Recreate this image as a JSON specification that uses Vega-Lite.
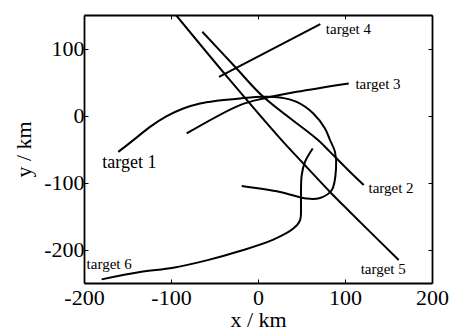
{
  "$schema": "https://vega.github.io/schema/vega-lite/v6.json",
  "width": 348,
  "height": 268,
  "autosize": {"type": "none"},
  "padding": {"left": 84, "top": 15, "right": 19, "bottom": 48},
  "background": "white",
  "config": {
    "view": {"stroke": null},
    "font": "Liberation Serif",
    "axis": {"grid": false, "labelFlush": false, "labelOverlap": false, "domainColor": "#000", "domainWidth": 1.8, "tickColor": "#000", "tickWidth": 1, "labelColor": "#000", "titleColor": "#000", "labelFont": "Liberation Serif", "titleFont": "Liberation Serif", "labelFontSize": 22, "titleFontSize": 22, "titleFontWeight": "normal"}
  },
  "datasets": {
    "tracks": [
      {"t": "target 1", "i": 1, "x": -160.6, "y": -54.3},
      {"t": "target 1", "i": 2, "x": -143.3, "y": -36.8},
      {"t": "target 1", "i": 3, "x": -124.1, "y": -17},
      {"t": "target 1", "i": 4, "x": -104.9, "y": -1},
      {"t": "target 1", "i": 5, "x": -85.9, "y": 10.5},
      {"t": "target 1", "i": 6, "x": -66.7, "y": 18},
      {"t": "target 1", "i": 7, "x": -47.5, "y": 22},
      {"t": "target 1", "i": 8, "x": -20.7, "y": 25.5},
      {"t": "target 1", "i": 9, "x": 6.1, "y": 27.9},
      {"t": "target 1", "i": 10, "x": 25.3, "y": 27},
      {"t": "target 1", "i": 11, "x": 44.5, "y": 20.4},
      {"t": "target 1", "i": 12, "x": 63.6, "y": 3.1},
      {"t": "target 1", "i": 13, "x": 77, "y": -19.4},
      {"t": "target 1", "i": 14, "x": 82.8, "y": -36.8},
      {"t": "target 1", "i": 15, "x": 88.5, "y": -54.3},
      {"t": "target 1", "i": 16, "x": 89.7, "y": -79.1},
      {"t": "target 1", "i": 17, "x": 84.7, "y": -111.6},
      {"t": "target 1", "i": 18, "x": 71.3, "y": -123.1},
      {"t": "target 1", "i": 19, "x": 56, "y": -124},
      {"t": "target 1", "i": 20, "x": 25.3, "y": -114.1},
      {"t": "target 1", "i": 21, "x": -18.7, "y": -105.2},
      {"t": "target 2", "i": 1, "x": -64, "y": 125},
      {"t": "target 2", "i": 2, "x": -26.4, "y": 72.7},
      {"t": "target 2", "i": 3, "x": 6.1, "y": 27.9},
      {"t": "target 2", "i": 4, "x": 69.3, "y": -36.8},
      {"t": "target 2", "i": 5, "x": 82.8, "y": -54.3},
      {"t": "target 2", "i": 6, "x": 103.8, "y": -81.7},
      {"t": "target 2", "i": 7, "x": 121.5, "y": -103.7},
      {"t": "target 3", "i": 1, "x": -82, "y": -26.8},
      {"t": "target 3", "i": 2, "x": -20.7, "y": 15.5},
      {"t": "target 3", "i": 3, "x": 6.1, "y": 25.4},
      {"t": "target 3", "i": 4, "x": 44.5, "y": 35.4},
      {"t": "target 3", "i": 5, "x": 104.3, "y": 47.9},
      {"t": "target 4", "i": 1, "x": -44.8, "y": 57.8},
      {"t": "target 4", "i": 2, "x": 71.6, "y": 136.5},
      {"t": "target 5", "i": 1, "x": -94.3, "y": 150},
      {"t": "target 5", "i": 2, "x": -32.2, "y": 52.8},
      {"t": "target 5", "i": 3, "x": 27.2, "y": -36.8},
      {"t": "target 5", "i": 4, "x": 52.1, "y": -71.7},
      {"t": "target 5", "i": 5, "x": 82.8, "y": -114.1},
      {"t": "target 5", "i": 6, "x": 105.7, "y": -144},
      {"t": "target 5", "i": 7, "x": 161.7, "y": -215.8},
      {"t": "target 6", "i": 1, "x": -179.7, "y": -244.6},
      {"t": "target 6", "i": 2, "x": -135.6, "y": -233.7},
      {"t": "target 6", "i": 3, "x": -97.4, "y": -227.1},
      {"t": "target 6", "i": 4, "x": -59, "y": -216.2},
      {"t": "target 6", "i": 5, "x": -20.7, "y": -202.3},
      {"t": "target 6", "i": 6, "x": 17.6, "y": -185.3},
      {"t": "target 6", "i": 7, "x": 40.6, "y": -168.8},
      {"t": "target 6", "i": 8, "x": 48.3, "y": -156.4},
      {"t": "target 6", "i": 9, "x": 49.4, "y": -134},
      {"t": "target 6", "i": 10, "x": 49.4, "y": -119.1},
      {"t": "target 6", "i": 11, "x": 50.2, "y": -89.2},
      {"t": "target 6", "i": 12, "x": 54, "y": -69.3},
      {"t": "target 6", "i": 13, "x": 62.9, "y": -49.3}
    ],
    "labels": [
      {"t": "target 1", "x": -179, "y": -79},
      {"t": "target 2", "x": 127, "y": -115},
      {"t": "target 3", "x": 112, "y": 40},
      {"t": "target 4", "x": 78, "y": 122},
      {"t": "target 5", "x": 118, "y": -236},
      {"t": "target 6", "x": -197, "y": -229}
    ]
  },
  "layer": [
    {
      "data": {"name": "tracks"},
      "mark": {"type": "line", "color": "#000", "strokeWidth": 2, "interpolate": "catmull-rom", "clip": true},
      "encoding": {
        "x": {"field": "x", "type": "quantitative", "scale": {"domain": [-200, 200], "nice": false, "zero": false}, "axis": {"title": "x / km", "values": [-200, -100, 0, 100, 200], "tickSize": -4, "labelPadding": 8, "titlePadding": 1, "labelFont": "Liberation Serif", "titleFont": "Liberation Serif", "labelExpr": "datum.value < 0 ? '-' + abs(datum.value) : '' + datum.value"}},
        "y": {"field": "y", "type": "quantitative", "scale": {"domain": [-250, 150], "nice": false, "zero": false}, "axis": {"title": "y / km", "values": [-200, -100, 0, 100], "tickSize": -4, "labelPadding": 4, "titlePadding": 8, "labelFont": "Liberation Serif", "titleFont": "Liberation Serif", "labelExpr": "datum.value < 0 ? '-' + abs(datum.value) : '' + datum.value"}},
        "detail": {"field": "t"},
        "order": {"field": "i", "type": "quantitative"}
      }
    },
    {
      "data": {"name": "labels"},
      "transform": [{"filter": "datum.t == 'target 1'"}],
      "mark": {"type": "text", "align": "left", "baseline": "alphabetic", "fontSize": 18, "font": "Liberation Serif", "color": "#000"},
      "encoding": {
        "x": {"field": "x", "type": "quantitative", "scale": {"domain": [-200, 200], "nice": false, "zero": false}, "axis": {"orient": "top", "title": null, "labels": false, "values": [-200, -100, 0, 100, 200], "tickSize": -4}},
        "y": {"field": "y", "type": "quantitative", "scale": {"domain": [-250, 150], "nice": false, "zero": false}, "axis": {"orient": "right", "title": null, "labels": false, "values": [-200, -100, 0, 100], "tickSize": -4}},
        "text": {"field": "t"}
      }
    },
    {
      "data": {"name": "labels"},
      "transform": [{"filter": "datum.t != 'target 1'"}],
      "mark": {"type": "text", "align": "left", "baseline": "alphabetic", "fontSize": 15, "font": "Liberation Serif", "color": "#000"},
      "encoding": {
        "x": {"field": "x", "type": "quantitative", "scale": {"domain": [-200, 200], "nice": false, "zero": false}, "axis": null},
        "y": {"field": "y", "type": "quantitative", "scale": {"domain": [-250, 150], "nice": false, "zero": false}, "axis": null},
        "text": {"field": "t"}
      }
    }
  ],
  "resolve": {"axis": {"x": "independent", "y": "independent"}}
}
